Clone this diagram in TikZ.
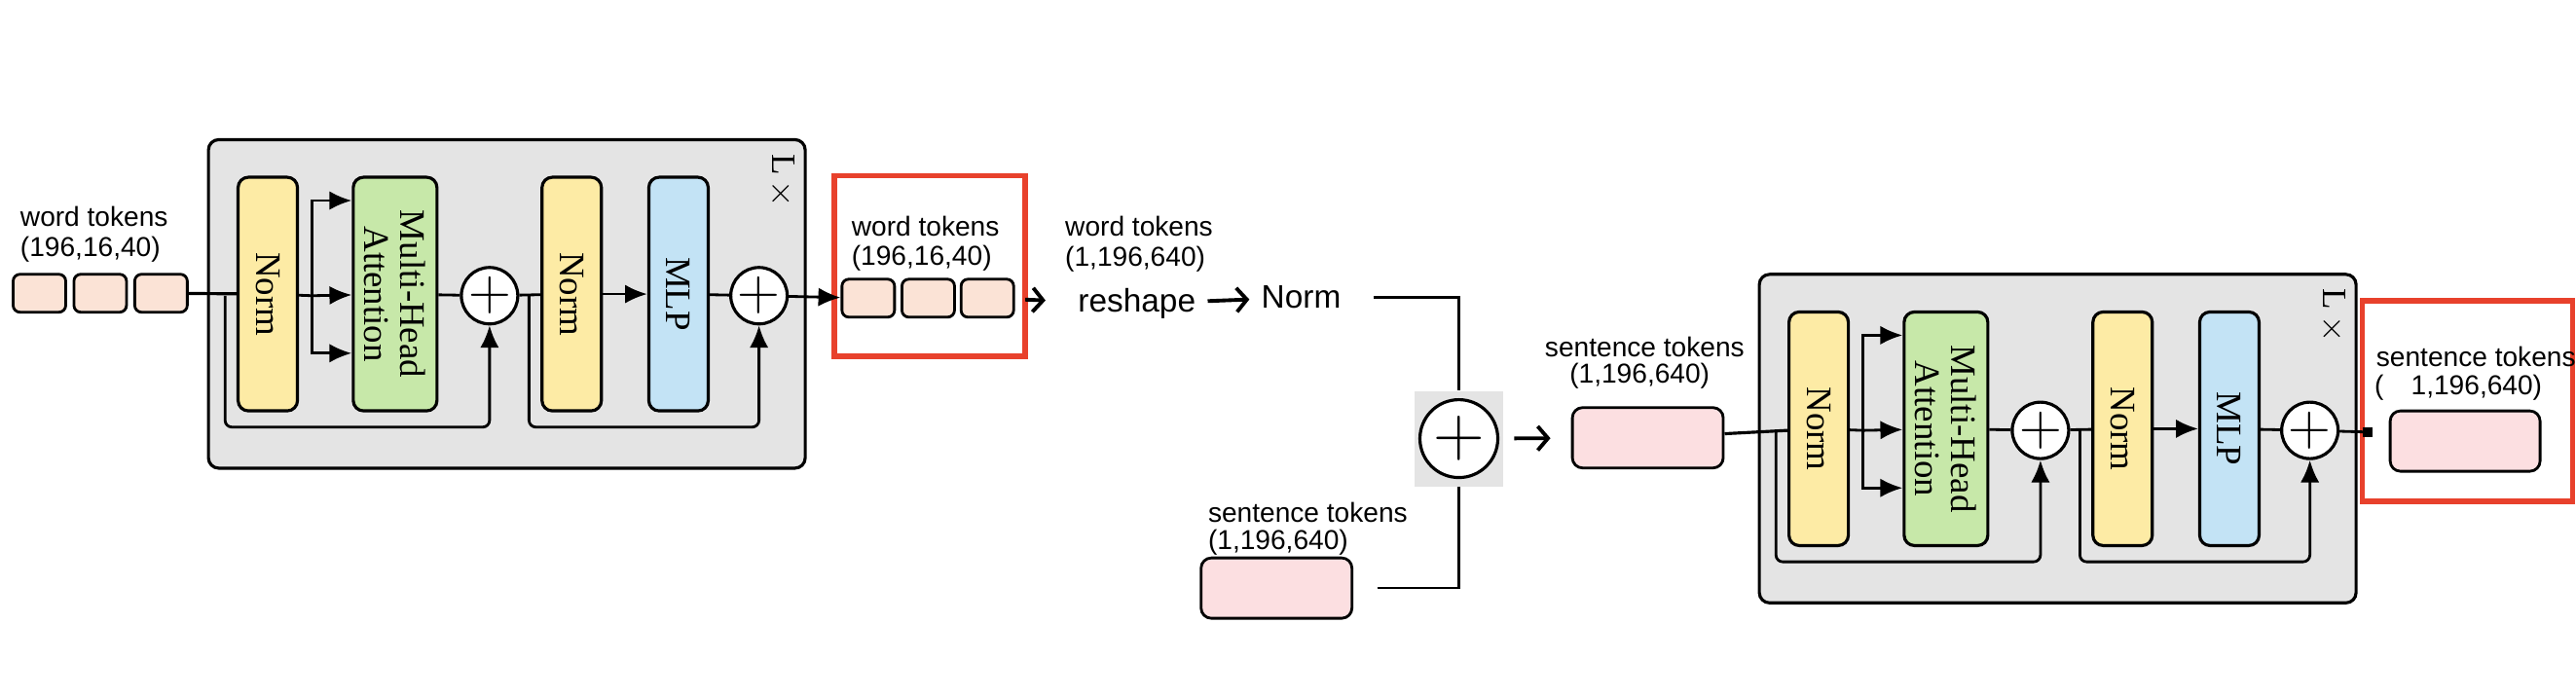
\documentclass[tikz,border=0pt]{standalone}
\usepackage{fontspec}
\setmainfont{Liberation Sans}
\newfontfamily\blkfont{Liberation Serif}
\usetikzlibrary{arrows.meta,calc}
\definecolor{normc}{HTML}{FDEBA5}
\definecolor{mhac}{HTML}{C7E8A9}
\definecolor{mlpc}{HTML}{C3E3F5}
\definecolor{boxc}{HTML}{E4E4E4}
\definecolor{tokc}{HTML}{FBE3D6}
\definecolor{sentc}{HTML}{FCDFE1}
\definecolor{redc}{HTML}{E8412C}
\tikzset{
	blk/.style={draw, rounded corners=3pt, line width=0.9pt, rotate=-90, minimum width=2.4cm, minimum height=0.61cm, inner sep=1pt, font=\blkfont\fontsize{10.5}{10.5}\selectfont, align=center},
	plus/.style={draw, circle, fill=white, line width=0.9pt, minimum size=0.56cm, inner sep=0pt, font=\LARGE},
	tok/.style={draw, rounded corners=2pt, line width=0.8pt, fill=tokc, minimum width=0.54cm, minimum height=0.39cm},
	sent/.style={draw, rounded corners=3pt, line width=0.8pt, fill=sentc, minimum width=1.55cm, minimum height=0.62cm},
	lbl/.style={anchor=west, inner sep=0pt, font=\fontsize{8}{9}\selectfont},
	big/.style={font=\fontsize{9.5}{10}\selectfont},
	arr/.style={-{Latex[length=6.5pt,width=5.5pt]}, line width=0.8pt},
	oarr/.style={-{Straight Barb[length=3pt,width=7pt]}, line width=1.1pt},
	red/.style={draw=redc, line width=1.6pt}
}
\begin{document}
\begin{tikzpicture}[x=0.016875cm, y=-0.016875cm]
\useasboundingbox (0,0) rectangle (1568,424);
% encoder blocks
\foreach \b/\ox/\oy in {A/127/85, B/1071/167}
{
\begin{scope}[shift={(\ox,\oy)}]
	\node[draw, fill=boxc, rounded corners=3pt, line width=0.9pt, minimum width=6.13cm, minimum height=3.375cm] (\b-box) at (181.5,100) {};
	\node[rotate=-90, font=\blkfont] (\b-lx) at (349,25) {L\,$\times$};
	\node[blk, fill=normc] (\b-n1) at (36,94) {Norm};
	\node[blk, fill=mhac, minimum height=0.86cm] (\b-mha) at (113.5,94) {Multi-Head\\Attention};
	\node[plus] (\b-p1) at (171,95) {$+$};
	\node[blk, fill=normc] (\b-n2) at (221,94) {Norm};
	\node[blk, fill=mlpc] (\b-mlp) at (286,94) {MLP};
	\node[plus] (\b-p2) at (335,95) {$+$};
	\coordinate (\b-br) at (63,95);
	\coordinate (\b-r1) at (10,95);
	\coordinate (\b-r2) at (195,95);
	\draw[line width=0.8pt] (\b-n1) -- (\b-br);
	\draw[arr] (\b-br) -- (\b-mha);
	\draw[arr] (\b-br) |- ($(\b-mha.south west)!0.105!(\b-mha.south east)$);
	\draw[arr] (\b-br) |- ($(\b-mha.south west)!0.75!(\b-mha.south east)$);
	\draw[line width=0.8pt] (\b-mha) -- (\b-p1) -- (\b-n2);
	\draw[arr] (\b-n2) -- (\b-mlp);
	\draw[line width=0.8pt] (\b-mlp) -- (\b-p2);
	\draw[arr, rounded corners=2pt] (\b-r1) -- ++(0,80) -| (\b-p1);
	\draw[arr, rounded corners=2pt] (\b-r2) -- ++(0,80) -| (\b-p2);
\end{scope}
}
% word tokens in
\foreach \i/\x in {1/24,2/61,3/98}
	\node[tok] (wa\i) at (\x,178.5) {};
\node[lbl] (wa-l1) at (12,132) {word tokens};
\node[lbl] (wa-l2) at (12,152) {(196,16,40)};
\draw[line width=0.9pt] (wa3) -- (A-n1);
% word tokens out
\node[red, minimum width=1.96cm, minimum height=1.856cm] (red1) at (566,162) {};
\foreach \i/\x in {1/528.5,2/565,3/601}
	\node[tok] (wb\i) at (\x,181.5) {};
\node[lbl] (wb-l1) at (518,138) {word tokens};
\node[lbl] (wb-l2) at (518,157) {(196,16,40)};
\draw[arr] (A-p2) -- (wb1);
% reshape and norm
\node[big] (rs) at (692,185) {reshape};
\node[lbl] (rs-l1) at (648,138) {word tokens};
\node[lbl] (rs-l2) at (648,158) {(1,196,640)};
\node[big] (nm) at (792,181) {Norm};
\draw[oarr, shorten <=3pt, shorten >=6pt] (wb3) -- (rs);
\draw[oarr] (rs) -- (nm);
% sum with sentence tokens
\node[fill=boxc, minimum width=0.91cm, minimum height=0.98cm] (bpbg) at (888,267) {};
\node[plus, minimum size=0.8cm, font=\huge] (bp) at (888,267) {$+$};
\node[sent] (sb) at (777,358) {};
\node[lbl] (sb-l1) at (735,312) {sentence tokens};
\node[lbl] (sb-l2) at (735,330) {(1,196,640)};
\draw[line width=0.6pt, shorten <=6pt] (nm) -| (bpbg);
\draw[line width=0.6pt, shorten <=7pt] (sb) -| (bpbg);
\node[sent] (sm) at (1003,266.5) {};
\node[lbl] (sm-l1) at (940,211) {sentence tokens};
\node[lbl] (sm-l2) at (955,229) {(1,196,640)};
\draw[oarr, shorten <=3pt, shorten >=6pt] (bpbg) -- (sm);
\draw[line width=0.9pt] (sm) -- (B-n1);
% sentence tokens out
\node[red, minimum width=2.16cm, minimum height=2.06cm] (red2) at (1502,244) {};
\node[sent, minimum width=1.54cm] (se) at (1500.5,268.5) {};
\node[lbl] (se-l1) at (1446,217) {sentence tokens};
\node[lbl] (se-l2) at (1445,236) {(\quad 1,196,640)};
\coordinate (B-end) at (1441,263);
\draw[line width=0.8pt] (B-p2) -- (B-end);
\fill (B-end) ++(-3,-3) rectangle ++(6,6);
\end{tikzpicture}
\end{document}
